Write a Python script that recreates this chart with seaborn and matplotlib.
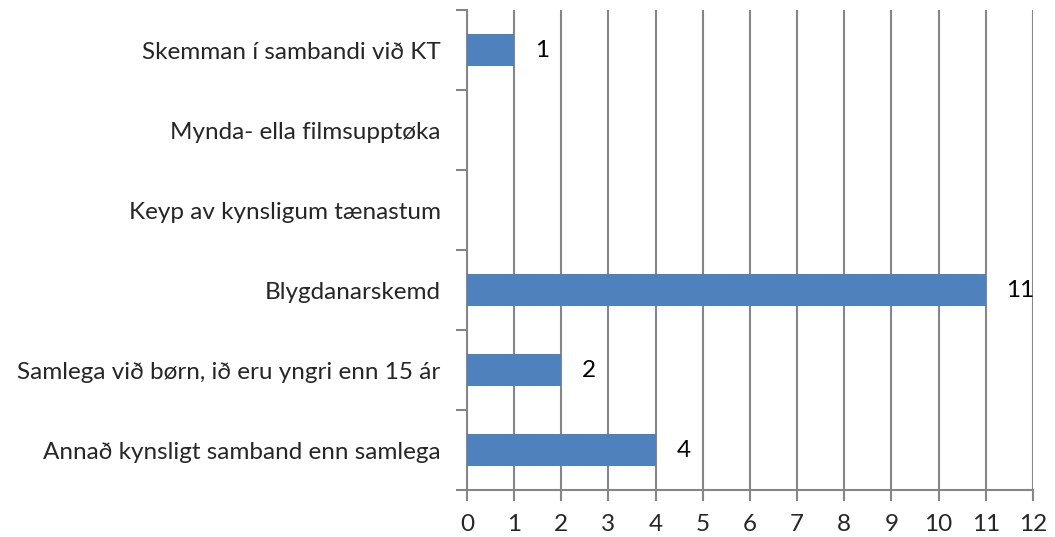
import matplotlib
matplotlib.use("Agg")
import matplotlib.pyplot as plt
import seaborn as sns
import pandas as pd
import numpy as np

# Data (top to bottom)
categories = [
    "Skemman í sambandi við KT",
    "Mynda- ella filmsupptøka",
    "Keyp av kynsligum tænastum",
    "Blygdanarskemd",
    "Samlega við børn, ið eru yngri enn 15 ár",
    "Annað kynsligt samband enn samlega",
]
counts = [1, 0, 0, 11, 2, 4]
x_ticks = list(range(0, 13))

df = pd.DataFrame({"category": categories, "count": counts})

sns.set_theme(style="white")
plt.rcParams["font.family"] = ["Lato", "DejaVu Sans"]

fig = plt.figure(figsize=(10.55, 5.37), dpi=100)
ax = fig.add_axes([0.4427, 0.0875, 0.979 - 0.4427, 0.981 - 0.0875])

sns.barplot(data=df, x="count", y="category", orient="h", color="#4F81BD",
            width=0.4, saturation=1, linewidth=0, ax=ax, zorder=3)

grid_col = "#868686"
fs = 17.5
ax.set_xlim(0, 12)
ax.set_xticks(x_ticks)
ax.set_xticklabels([str(t) for t in x_ticks], fontsize=fs)
ax.set_ylim(len(categories) - 0.5, -0.5)
ax.set_xlabel("")
ax.set_ylabel("")
ax.xaxis.grid(True, color=grid_col, linewidth=1.5, zorder=0)
ax.set_axisbelow(True)

# category tick marks sit between the bars
ax.set_yticks(np.arange(len(categories)))
ax.set_yticklabels(categories, fontsize=fs)
ax.set_yticks(np.arange(-0.5, len(categories)), minor=True)
ax.tick_params(axis="y", which="major", length=0, pad=19)
ax.tick_params(axis="y", which="minor", length=8, width=1.5, color=grid_col, left=True)
ax.tick_params(axis="x", which="major", length=8, width=1.5, color=grid_col,
               bottom=True, pad=9)

for side in ["top", "right"]:
    ax.spines[side].set_visible(False)
for side in ["left", "bottom"]:
    ax.spines[side].set_color(grid_col)
    ax.spines[side].set_linewidth(1.5)

# value labels for non-zero bars
for cont in ax.containers:
    labels = [str(int(v)) if v > 0 else "" for v in cont.datavalues]
    ax.bar_label(cont, labels=labels, padding=15, fontsize=fs, color="black")

fig.savefig("out.png", dpi=100)
